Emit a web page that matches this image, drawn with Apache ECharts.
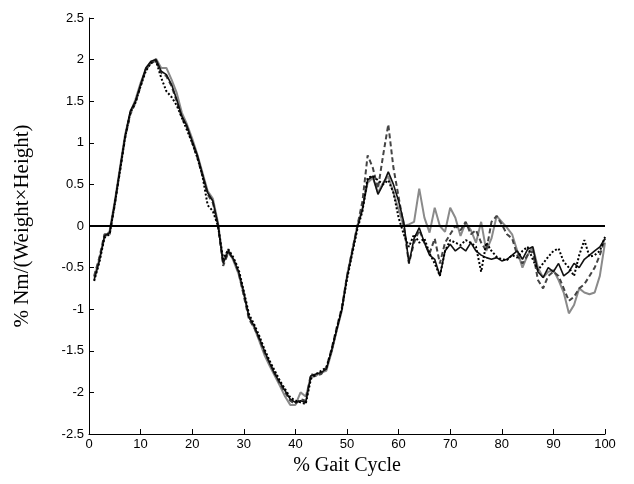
<!DOCTYPE html>
<html>
<head>
<meta charset="utf-8">
<script src="https://cdn.jsdelivr.net/npm/echarts@6/dist/echarts.min.js"></script>
<style>html,body{margin:0;padding:0;background:#fff}#c{width:634px;height:484px}</style>
</head>
<body>
<div id="c"></div>
<script>
// x positions: % gait cycle 1..100
const gaitPercent = [];
for (let i = 1; i <= 100; i++) gaitPercent.push(i);

const xTicks = [0,10,20,30,40,50,60,70,80,90,100];
const yTicks = [-2.5,-2,-1.5,-1,-0.5,0,0.5,1,1.5,2,2.5];

// solid black
const seriesSolidBlack = [
 -0.65,-0.42,-0.12,-0.08,0.28,0.68,1.08,1.38,1.50,1.70,
 1.90,1.98,2.00,1.86,1.82,1.70,1.52,1.32,1.20,1.02,
 0.85,0.62,0.40,0.30,0.02,-0.45,-0.30,-0.40,-0.55,-0.80,
 -1.10,-1.20,-1.35,-1.50,-1.65,-1.78,-1.88,-1.98,-2.08,-2.12,
 -2.10,-2.12,-1.80,-1.78,-1.76,-1.72,-1.50,-1.25,-1.00,-0.62,
 -0.32,-0.02,0.20,0.55,0.60,0.38,0.50,0.65,0.50,0.30,
 0.05,-0.45,-0.15,-0.02,-0.20,-0.35,-0.40,-0.60,-0.30,-0.22,
 -0.30,-0.25,-0.30,-0.20,-0.30,-0.35,-0.38,-0.40,-0.38,-0.42,
 -0.40,-0.35,-0.30,-0.40,-0.28,-0.25,-0.55,-0.62,-0.50,-0.55,
 -0.45,-0.60,-0.55,-0.45,-0.50,-0.40,-0.35,-0.30,-0.25,-0.15
];
// solid gray
const seriesSolidGray = [
 -0.62,-0.40,-0.14,-0.06,0.30,0.70,1.10,1.36,1.52,1.72,
 1.88,1.96,2.01,1.90,1.90,1.76,1.60,1.36,1.22,1.05,
 0.86,0.64,0.42,0.33,0.04,-0.42,-0.28,-0.42,-0.58,-0.82,
 -1.08,-1.22,-1.38,-1.55,-1.68,-1.80,-1.92,-2.05,-2.15,-2.15,
 -2.00,-2.05,-1.82,-1.80,-1.76,-1.74,-1.52,-1.26,-1.02,-0.60,
 -0.30,0.00,0.22,0.52,0.58,0.40,0.52,0.60,0.40,0.20,
 0.00,0.02,0.05,0.45,0.10,-0.08,0.22,0.00,-0.07,0.22,
 0.10,-0.12,0.04,-0.05,-0.20,0.05,-0.30,-0.15,0.12,0.05,
 -0.02,-0.10,-0.30,-0.50,-0.35,-0.25,-0.50,-0.62,-0.55,-0.53,
 -0.65,-0.80,-1.05,-0.95,-0.75,-0.80,-0.82,-0.80,-0.60,-0.20
];
// dashed dark gray
const seriesDashed = [
 -0.60,-0.38,-0.10,-0.10,0.26,0.66,1.06,1.34,1.48,1.68,
 1.88,1.96,1.98,1.84,1.80,1.68,1.50,1.30,1.18,1.00,
 0.82,0.60,0.38,0.28,0.00,-0.48,-0.32,-0.40,-0.56,-0.84,
 -1.12,-1.22,-1.36,-1.52,-1.64,-1.76,-1.90,-2.00,-2.10,-2.14,
 -2.08,-2.10,-1.78,-1.80,-1.78,-1.70,-1.48,-1.22,-0.98,-0.60,
 -0.30,0.00,0.30,0.85,0.70,0.45,0.85,1.22,0.70,0.35,
 0.00,-0.45,-0.20,-0.05,-0.20,-0.33,-0.15,-0.45,-0.20,-0.10,
 0.00,-0.05,0.05,-0.10,-0.05,-0.20,-0.30,0.05,0.12,0.02,
 -0.10,-0.15,-0.35,-0.45,-0.35,-0.30,-0.65,-0.75,-0.60,-0.55,
 -0.60,-0.75,-0.90,-0.85,-0.75,-0.70,-0.60,-0.50,-0.35,-0.15
];
// dotted black
const seriesDotted = [
 -0.66,-0.44,-0.14,-0.10,0.26,0.66,1.06,1.36,1.48,1.68,
 1.86,1.96,1.98,1.78,1.62,1.55,1.45,1.30,1.15,1.00,
 0.82,0.60,0.25,0.18,0.00,-0.40,-0.28,-0.38,-0.52,-0.78,
 -1.06,-1.18,-1.32,-1.48,-1.62,-1.74,-1.86,-1.96,-2.06,-2.10,
 -2.12,-2.14,-1.84,-1.78,-1.74,-1.70,-1.50,-1.24,-1.00,-0.64,
 -0.34,-0.04,0.18,0.58,0.60,0.55,0.50,0.55,0.40,0.10,
 -0.10,-0.25,-0.10,-0.20,-0.15,-0.33,-0.45,-0.60,-0.30,-0.17,
 -0.20,-0.23,-0.17,-0.20,-0.25,-0.55,-0.20,-0.30,-0.37,-0.40,
 -0.41,-0.35,-0.38,-0.30,-0.25,-0.40,-0.53,-0.45,-0.37,-0.30,
 -0.27,-0.43,-0.50,-0.60,-0.35,-0.17,-0.37,-0.35,-0.30,-0.13
];
const zeroLine = [[0,0],[100,0]];

function pairs(vals){ return vals.map((v,i)=>[gaitPercent[i], v]); }

const chart = echarts.init(document.getElementById('c'), null, {renderer:'canvas'});
const tickFont = "'Liberation Sans Narrow','Arial Narrow','Liberation Sans',sans-serif";
const nameFont = "'Liberation Serif','Times New Roman',serif";
chart.setOption({
  animation: false,
  backgroundColor: '#fff',
  grid: {left: 89, right: 29, top: 18, bottom: 50, containLabel: false},
  xAxis: {
    type: 'value', min: 0, max: 100, interval: 10,
    name: '% Gait Cycle', nameLocation: 'middle', nameGap: 21,
    nameTextStyle: {fontFamily: nameFont, fontSize: 20, color: '#000'},
    axisLine: {show: true, onZero: false, lineStyle: {color: '#000', width: 1}},
    axisTick: {show: true, inside: true, length: 5, lineStyle: {color: '#000'}},
    axisLabel: {fontFamily: tickFont, fontSize: 13, color: '#000', margin: 4,
      formatter: v => xTicks.includes(v) ? String(v) : ''},
    splitLine: {show: false}
  },
  yAxis: {
    type: 'value', min: -2.5, max: 2.5, interval: 0.5,
    name: '% Nm/(Weight\u00d7Height)', nameLocation: 'middle', nameGap: 56,
    nameTextStyle: {fontFamily: nameFont, fontSize: 21, color: '#000'},
    axisLine: {show: true, onZero: false, lineStyle: {color: '#000', width: 1}},
    axisTick: {show: true, inside: true, length: 5, lineStyle: {color: '#000'}},
    axisLabel: {fontFamily: tickFont, fontSize: 13, color: '#000', margin: 5,
      formatter: v => yTicks.includes(v) ? String(v) : ''},
    splitLine: {show: false}
  },
  series: [
    {type:'line', data: pairs(seriesSolidGray), symbol:'none', lineStyle:{color:'#8a8a8a', width:2}},
    {type:'line', data: pairs(seriesDashed), symbol:'none', lineStyle:{color:'#444', width:2, type:[5,3]}},
    {type:'line', data: pairs(seriesSolidBlack), symbol:'none', lineStyle:{color:'#111', width:1.6}},
    {type:'line', data: pairs(seriesDotted), symbol:'none', lineStyle:{color:'#000', width:2, type:[2,2]}},
    {type:'line', data: zeroLine, symbol:'none', lineStyle:{color:'#000', width:2}}
  ]
});
</script>
</body>
</html>
